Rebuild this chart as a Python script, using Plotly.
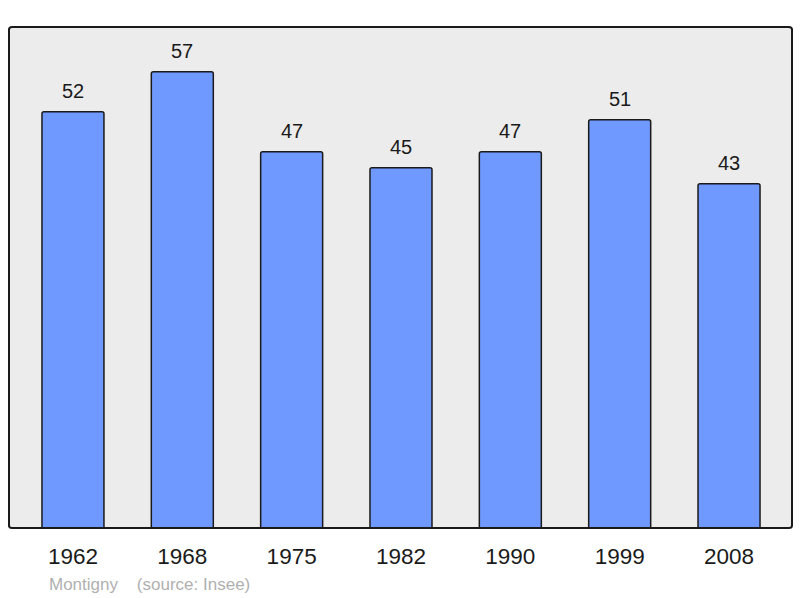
import plotly.graph_objects as go

years = ["1962", "1968", "1975", "1982", "1990", "1999", "2008"]
population = [52, 57, 47, 45, 47, 51, 43]
commune = "Montigny"
source_note = "(source: Insee)"

FONT = "Liberation Sans, Arial, sans-serif"

fig = go.Figure()
fig.add_trace(go.Bar(
    x=list(range(len(years))), y=population,
    width=0.567,
    marker=dict(color="#7099ff", line=dict(color="#1a1a1a", width=1.5), cornerradius=2),
    hoverinfo="skip",
))

for i, v in enumerate(population):
    fig.add_annotation(x=i, y=v, text=str(v), showarrow=False, yanchor="bottom",
                       yshift=8, font=dict(size=20, color="#1a1a1a", family=FONT))

fig.add_annotation(xref="paper", yref="paper", x=0.048, y=-0.113, xanchor="left", yanchor="middle",
                   text=commune + "&nbsp;&nbsp;&nbsp;&nbsp;" + source_note, showarrow=False,
                   font=dict(size=17, color="#b0b0b0", family=FONT))

fig.update_layout(
    width=800, height=598,
    margin=dict(l=9, r=8, t=27, b=70),
    paper_bgcolor="white",
    plot_bgcolor="#ececec",
    showlegend=False,
    font=dict(family=FONT),
    xaxis=dict(range=[-0.585, 6.576], tickmode="array", tickvals=list(range(len(years))),
               ticktext=years, showgrid=False, zeroline=False, ticks="outside", ticklen=8,
               tickcolor="rgba(0,0,0,0)", tickfont=dict(size=22.5, color="#1a1a1a"),
               showline=False, fixedrange=True),
    yaxis=dict(range=[0, 62.6], showgrid=False, zeroline=False, showticklabels=False,
               showline=False, fixedrange=True),
    shapes=[dict(type="path", xref="paper", yref="paper",
                 path="M 0,0.005 L 0,0.995 Q 0,1 0.004,1 L 0.996,1 Q 1,1 1,0.995 L 1,0.005 Q 1,0 0.996,0 L 0.004,0 Q 0,0 0,0.005 Z",
                 line=dict(color="#1a1a1a", width=2), layer="above")],
)

fig.write_html("out.html", config={"displayModeBar": False},
               post_script="document.body.style.margin='0';document.body.style.overflow='hidden';")
